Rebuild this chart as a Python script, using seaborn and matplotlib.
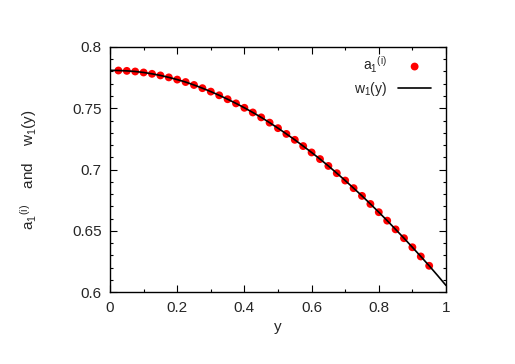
import numpy as np
import pandas as pd
import matplotlib
matplotlib.use("Agg")
import matplotlib.pyplot as plt
from matplotlib.ticker import MultipleLocator
import seaborn as sns

# sampled points a_1^(i)
y_pts = [0.025, 0.050, 0.075, 0.100, 0.125, 0.150, 0.175, 0.200, 0.225, 0.250,
         0.275, 0.300, 0.325, 0.350, 0.375, 0.400, 0.425, 0.450, 0.475, 0.500,
         0.525, 0.550, 0.575, 0.600, 0.625, 0.650, 0.675, 0.700, 0.725, 0.750,
         0.775, 0.800, 0.825, 0.850, 0.875, 0.900, 0.925, 0.950]
a1_pts = [0.7808, 0.7805, 0.7800, 0.7792, 0.7781, 0.7768, 0.7752, 0.7734, 0.7714, 0.7690,
          0.7664, 0.7636, 0.7606, 0.7574, 0.7540, 0.7504, 0.7466, 0.7426, 0.7383, 0.7338,
          0.7291, 0.7243, 0.7192, 0.7140, 0.7086, 0.7030, 0.6971, 0.6911, 0.6849, 0.6786,
          0.6720, 0.6653, 0.6584, 0.6513, 0.6441, 0.6367, 0.6292, 0.6216]

# curve w_1(y)
y_line = [0.0] + y_pts + [0.975, 1.0]
w1_line = [0.7810] + a1_pts + [0.6137, 0.6056]

x_ticks = [0, 0.2, 0.4, 0.6, 0.8, 1.0]
x_labels = ["0", "0.2", "0.4", "0.6", "0.8", "1"]
y_ticks = [0.6, 0.65, 0.7, 0.75, 0.8]
y_labels = ["0.6", "0.65", "0.7", "0.75", "0.8"]

sns.set_style("ticks")
plt.rcParams['font.family'] = ['Liberation Sans', 'DejaVu Sans']
plt.rcParams['mathtext.fontset'] = 'custom'
plt.rcParams['mathtext.rm'] = 'Liberation Sans'
plt.rcParams['mathtext.it'] = 'Liberation Sans'

pts = pd.DataFrame({"y": y_pts, "a": a1_pts})
line = pd.DataFrame({"y": y_line, "w": w1_line})

fig = plt.figure(figsize=(5.15, 3.64), dpi=100)
ax = fig.add_axes([0.2136, 0.197, 0.6524, 0.674])

sns.scatterplot(data=pts, x="y", y="a", ax=ax, color="red", s=32,
                edgecolor="none", label=r"a$_1$$^{(i)}$", zorder=2)
sns.lineplot(data=line, x="y", y="w", ax=ax, color="black", lw=1.2,
             label=r"w$_1$(y)", zorder=3)

ax.set_xlim(0, 1)
ax.set_ylim(0.6, 0.8)
ax.set_xticks(x_ticks, x_labels)
ax.set_yticks(y_ticks, y_labels)
ax.xaxis.set_minor_locator(MultipleLocator(0.1))
ax.yaxis.set_minor_locator(MultipleLocator(0.01))
ax.tick_params(which="both", direction="in", top=True, right=True, labelsize=11,
               color="black", width=0.8, pad=6)
ax.tick_params(which="major", length=5)
ax.tick_params(which="minor", length=2.5)
for s in ax.spines.values():
    s.set_color("black")
    s.set_linewidth(1.0)

ax.set_xlabel("y", fontsize=11, labelpad=4)
ax.set_ylabel(r"a$_1$$^{(i)}$    and    w$_1$(y)", fontsize=11, labelpad=24)

ax.legend(loc="upper right", bbox_to_anchor=(0.979, 1.0), frameon=False,
          markerfirst=False, fontsize=10, handlelength=2.4,
          borderaxespad=0.15, labelspacing=0.35)

fig.savefig("out.png", dpi=100)
